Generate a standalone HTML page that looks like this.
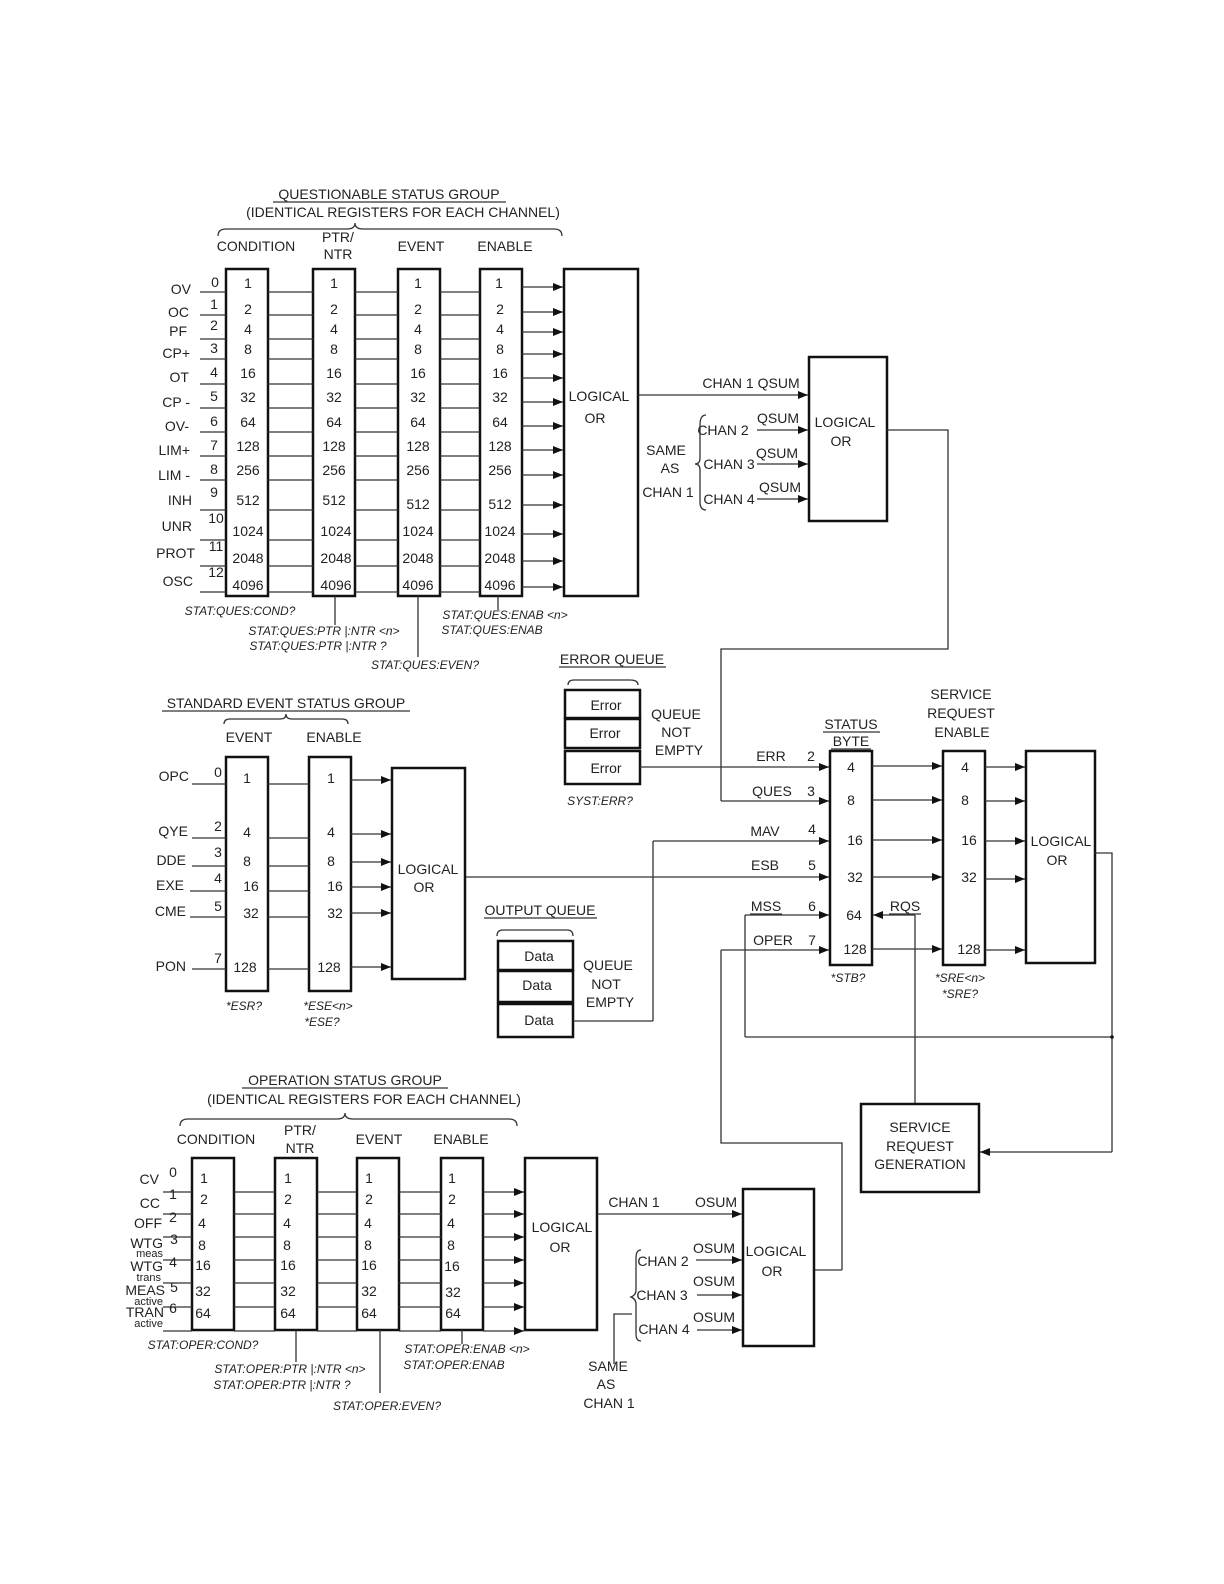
<!DOCTYPE html>
<html><head><meta charset="utf-8"><style>
html,body{margin:0;padding:0;background:#fff}
svg{display:block}
text{font-family:"Liberation Sans",sans-serif;font-size:14px;fill:#222}
.s{font-size:12px;font-style:italic}
.m{text-anchor:middle}
.e{text-anchor:end}
.b{fill:none;stroke:#111;stroke-width:2.5}
.l{fill:none;stroke:#333;stroke-width:1.3}
</style></head><body>
<svg width="1224" height="1584" viewBox="0 0 1224 1584" xmlns="http://www.w3.org/2000/svg">
<defs><marker id="a" markerWidth="10" markerHeight="8" refX="10" refY="4" orient="auto" markerUnits="userSpaceOnUse"><path d="M0,0 L10,4 L0,8 Z" fill="#111"/></marker></defs>

<!-- QUESTIONABLE -->
<text x="389" y="199" class="m">QUESTIONABLE  STATUS GROUP</text>
<line x1="273" y1="202" x2="506" y2="202" class="l"/>
<text x="403" y="217" class="m">(IDENTICAL REGISTERS FOR EACH CHANNEL)</text>
<path d="M218,236 Q218,229 226,229 L347,229 Q355,229 355,223 Q355,229 363,229 L554,229 Q562,229 562,236" class="l"/>
<text x="256" y="251" class="m">CONDITION</text>
<text x="338" y="242" class="m">PTR/</text><text x="338" y="259" class="m">NTR</text>
<text x="421" y="251" class="m">EVENT</text>
<text x="505" y="251" class="m">ENABLE</text>
<rect x="226" y="269" width="42" height="327" class="b"/>
<rect x="313" y="269" width="42" height="327" class="b"/>
<rect x="398" y="269" width="42" height="327" class="b"/>
<rect x="480" y="269" width="42" height="327" class="b"/>
<rect x="564" y="269" width="74" height="327" class="b"/>
<text x="599" y="401" class="m">LOGICAL</text><text x="595" y="423" class="m">OR</text>
<g class="l">
<path d="M200,292H226M268,292H313M355,292H398M440,292H480"/>
<path d="M200,315H226M268,315H313M355,315H398M440,315H480"/>
<path d="M200,339H226M268,339H313M355,339H398M440,339H480"/>
<path d="M200,359H226M268,359H313M355,359H398M440,359H480"/>
<path d="M200,384H226M268,384H313M355,384H398M440,384H480"/>
<path d="M200,408H226M268,408H313M355,408H398M440,408H480"/>
<path d="M200,432H226M268,432H313M355,432H398M440,432H480"/>
<path d="M200,456H226M268,456H313M355,456H398M440,456H480"/>
<path d="M200,480H226M268,480H313M355,480H398M440,480H480"/>
<path d="M200,510H226M268,510H313M355,510H398M440,510H480"/>
<path d="M200,540H226M268,540H313M355,540H398M440,540H480"/>
<path d="M200,566H226M268,566H313M355,566H398M440,566H480"/>
<path d="M200,592H226M268,592H313M355,592H398M440,592H480"/>
</g>
<g class="l" marker-end="url(#a)">
<line x1="522" y1="287" x2="563" y2="287"/><line x1="522" y1="312" x2="563" y2="312"/><line x1="522" y1="332" x2="563" y2="332"/><line x1="522" y1="354" x2="563" y2="354"/><line x1="522" y1="378" x2="563" y2="378"/><line x1="522" y1="402" x2="563" y2="402"/><line x1="522" y1="426" x2="563" y2="426"/><line x1="522" y1="450" x2="563" y2="450"/><line x1="522" y1="475" x2="563" y2="475"/><line x1="522" y1="505" x2="563" y2="505"/><line x1="522" y1="534" x2="563" y2="534"/><line x1="522" y1="561" x2="563" y2="561"/><line x1="522" y1="587" x2="563" y2="587"/>
</g>
<g class="e">
<text x="191" y="294">OV</text><text x="189" y="317">OC</text><text x="187" y="336">PF</text><text x="190" y="358">CP+</text><text x="189" y="382">OT</text><text x="190" y="407">CP -</text><text x="189" y="431">OV-</text><text x="190" y="455">LIM+</text><text x="190" y="480">LIM -</text><text x="192" y="505">INH</text><text x="192" y="531">UNR</text><text x="195" y="558">PROT</text><text x="193" y="586">OSC</text>
</g>
<g class="m">
<text x="215" y="287">0</text><text x="214" y="309">1</text><text x="214" y="330">2</text><text x="214" y="353">3</text><text x="214" y="377">4</text><text x="214" y="401">5</text><text x="214" y="426">6</text><text x="214" y="450">7</text><text x="214" y="474">8</text><text x="214" y="497">9</text><text x="216" y="523">10</text><text x="216" y="551">11</text><text x="216" y="577">12</text>
</g>
<g class="m">
<text x="248" y="288">1</text><text x="248" y="314">2</text><text x="248" y="334">4</text><text x="248" y="354">8</text><text x="248" y="378">16</text><text x="248" y="402">32</text><text x="248" y="427">64</text><text x="248" y="451">128</text><text x="248" y="475">256</text><text x="248" y="505">512</text><text x="248" y="536">1024</text><text x="248" y="563">2048</text><text x="248" y="590">4096</text>
<text x="334" y="288">1</text><text x="334" y="314">2</text><text x="334" y="334">4</text><text x="334" y="354">8</text><text x="334" y="378">16</text><text x="334" y="402">32</text><text x="334" y="427">64</text><text x="334" y="451">128</text><text x="334" y="475">256</text><text x="334" y="505">512</text><text x="336" y="536">1024</text><text x="336" y="563">2048</text><text x="336" y="590">4096</text>
<text x="418" y="288">1</text><text x="418" y="314">2</text><text x="418" y="334">4</text><text x="418" y="354">8</text><text x="418" y="378">16</text><text x="418" y="402">32</text><text x="418" y="427">64</text><text x="418" y="451">128</text><text x="418" y="475">256</text><text x="418" y="509">512</text><text x="418" y="536">1024</text><text x="418" y="563">2048</text><text x="418" y="590">4096</text>
<text x="499" y="288">1</text><text x="500" y="314">2</text><text x="500" y="334">4</text><text x="500" y="354">8</text><text x="500" y="378">16</text><text x="500" y="402">32</text><text x="500" y="427">64</text><text x="500" y="451">128</text><text x="500" y="475">256</text><text x="500" y="509">512</text><text x="500" y="536">1024</text><text x="500" y="563">2048</text><text x="500" y="590">4096</text>
</g>
<g class="l"><line x1="335" y1="596" x2="335" y2="625"/><line x1="418" y1="596" x2="418" y2="657"/><line x1="498" y1="596" x2="498" y2="610"/></g>
<text class="s m" x="240" y="615">STAT:QUES:COND?</text>
<text class="s m" x="324" y="635">STAT:QUES:PTR |:NTR &lt;n&gt;</text>
<text class="s m" x="318" y="650">STAT:QUES:PTR |:NTR ?</text>
<text class="s m" x="425" y="669">STAT:QUES:EVEN?</text>
<text class="s m" x="505" y="619">STAT:QUES:ENAB &lt;n&gt;</text>
<text class="s m" x="492" y="634">STAT:QUES:ENAB</text>

<!-- QSUM OR -->
<rect x="809" y="357" width="78" height="164" class="b"/>
<text x="845" y="427" class="m">LOGICAL</text><text x="841" y="446" class="m">OR</text>
<line x1="638" y1="395" x2="808" y2="395" class="l" marker-end="url(#a)"/>
<text x="751" y="388" class="m">CHAN 1  QSUM</text>
<text x="723" y="435" class="m">CHAN 2</text><text x="778" y="423" class="m">QSUM</text>
<text x="729" y="469" class="m">CHAN 3</text><text x="777" y="458" class="m">QSUM</text>
<text x="729" y="504" class="m">CHAN 4</text><text x="780" y="492" class="m">QSUM</text>
<g class="l" marker-end="url(#a)"><line x1="757" y1="430" x2="808" y2="430"/><line x1="757" y1="464" x2="808" y2="464"/><line x1="757" y1="499" x2="808" y2="499"/></g>
<path d="M706,415 Q700,415 700,425 L700,458 Q700,464 695,464 Q700,464 700,470 L700,502 Q700,510 706,510" class="l"/>
<text x="666" y="455" class="m">SAME</text><text x="670" y="473" class="m">AS</text><text x="668" y="497" class="m">CHAN 1</text>
<path d="M887,430 H948 V649 H721 V801" class="l"/>
<line x1="721" y1="801" x2="829" y2="801" class="l" marker-end="url(#a)"/>

<!-- ERROR QUEUE -->
<text x="612" y="664" class="m">ERROR QUEUE</text><line x1="559" y1="667" x2="666" y2="667" class="l"/>
<path d="M568,685 Q568,680 574,680 L630,680 Q638,680 638,685" class="l"/>
<rect x="565" y="690" width="75" height="28" class="b"/>
<rect x="565" y="719" width="75" height="29" class="b"/>
<rect x="565" y="751" width="75" height="33" class="b"/>
<text x="606" y="710" class="m">Error</text><text x="605" y="738" class="m">Error</text><text x="606" y="773" class="m">Error</text>
<text x="676" y="719" class="m">QUEUE</text><text x="676" y="737" class="m">NOT</text><text x="679" y="755" class="m">EMPTY</text>
<text class="s m" x="600" y="805">SYST:ERR?</text>
<line x1="640" y1="767" x2="829" y2="767" class="l" marker-end="url(#a)"/>

<!-- STATUS BYTE -->
<text x="851" y="729" class="m">STATUS</text><text x="851" y="746" class="m">BYTE</text>
<line x1="823" y1="732" x2="880" y2="732" class="l"/><line x1="831" y1="749" x2="871" y2="749" class="l"/>
<rect x="830" y="751" width="42" height="214" class="b"/>
<g class="m"><text x="851" y="772">4</text><text x="851" y="805">8</text><text x="855" y="845">16</text><text x="855" y="882">32</text><text x="854" y="920">64</text><text x="855" y="954">128</text></g>
<text x="771" y="761" class="m">ERR</text><text x="811" y="761" class="m">2</text>
<text x="772" y="796" class="m">QUES</text><text x="811" y="796" class="m">3</text>
<text x="765" y="836" class="m">MAV</text><text x="812" y="834" class="m">4</text>
<text x="765" y="870" class="m">ESB</text><text x="812" y="870" class="m">5</text>
<text x="766" y="911" class="m">MSS</text><text x="812" y="911" class="m">6</text><line x1="750" y1="914" x2="782" y2="914" class="l"/>
<text x="773" y="945" class="m">OPER</text><text x="812" y="945" class="m">7</text>
<text class="s m" x="848" y="982">*STB?</text>
<path d="M653,1021 V841" class="l"/>
<line x1="653" y1="841" x2="829" y2="841" class="l" marker-end="url(#a)"/>
<line x1="465" y1="877" x2="829" y2="877" class="l" marker-end="url(#a)"/>
<path d="M745,1037 V915" class="l"/>
<line x1="745" y1="915" x2="829" y2="915" class="l" marker-end="url(#a)"/>
<path d="M842,1270 V1143 H721 V950" class="l"/>
<line x1="721" y1="950" x2="829" y2="950" class="l" marker-end="url(#a)"/>
<path d="M814,1270 H842" class="l"/>
<path d="M915,1104 V915" class="l"/>
<line x1="915" y1="915" x2="873" y2="915" class="l" marker-end="url(#a)"/>
<text x="905" y="911" class="m">RQS</text><line x1="889" y1="914" x2="921" y2="914" class="l"/>

<!-- SRE -->
<text x="961" y="699" class="m">SERVICE</text><text x="961" y="718" class="m">REQUEST</text><text x="962" y="737" class="m">ENABLE</text>
<rect x="943" y="751" width="42" height="214" class="b"/>
<g class="m"><text x="965" y="772">4</text><text x="965" y="805">8</text><text x="969" y="845">16</text><text x="969" y="882">32</text><text x="969" y="954">128</text></g>
<g class="l" marker-end="url(#a)">
<line x1="872" y1="766" x2="942" y2="766"/><line x1="872" y1="800" x2="942" y2="800"/><line x1="872" y1="840" x2="942" y2="840"/><line x1="872" y1="877" x2="942" y2="877"/><line x1="872" y1="949" x2="942" y2="949"/>
<line x1="985" y1="767" x2="1025" y2="767"/><line x1="985" y1="801" x2="1025" y2="801"/><line x1="985" y1="841" x2="1025" y2="841"/><line x1="985" y1="879" x2="1025" y2="879"/><line x1="985" y1="950" x2="1025" y2="950"/>
</g>
<text class="s m" x="960" y="982">*SRE&lt;n&gt;</text><text class="s m" x="960" y="998">*SRE?</text>
<rect x="1026" y="751" width="69" height="212" class="b"/>
<text x="1061" y="846" class="m">LOGICAL</text><text x="1057" y="865" class="m">OR</text>
<path d="M1095,853 H1112 V1152" class="l"/>
<line x1="1112" y1="1152" x2="980" y2="1152" class="l" marker-end="url(#a)"/>
<line x1="745" y1="1037" x2="1112" y2="1037" class="l"/>
<circle cx="1112" cy="1037" r="1.8" fill="#111"/>
<rect x="861" y="1104" width="118" height="88" class="b"/>
<text x="920" y="1132" class="m">SERVICE</text><text x="920" y="1151" class="m">REQUEST</text><text x="920" y="1169" class="m">GENERATION</text>

<!-- STANDARD EVENT -->
<text x="286" y="708" class="m">STANDARD EVENT STATUS GROUP</text><line x1="162" y1="711" x2="410" y2="711" class="l"/>
<path d="M224,724 Q224,719 230,719 L280,719 Q286,719 286,714 Q286,719 292,719 L342,719 Q348,719 348,724" class="l"/>
<text x="249" y="742" class="m">EVENT</text><text x="334" y="742" class="m">ENABLE</text>
<rect x="226" y="757" width="42" height="234" class="b"/>
<rect x="309" y="757" width="42" height="234" class="b"/>
<rect x="392" y="768" width="73" height="211" class="b"/>
<text x="428" y="874" class="m">LOGICAL</text><text x="424" y="892" class="m">OR</text>
<g class="e"><text x="189" y="781">OPC</text><text x="188" y="836">QYE</text><text x="186" y="865">DDE</text><text x="184" y="890">EXE</text><text x="186" y="916">CME</text><text x="186" y="971">PON</text></g>
<g class="m"><text x="218" y="777">0</text><text x="218" y="831">2</text><text x="218" y="857">3</text><text x="218" y="883">4</text><text x="218" y="911">5</text><text x="218" y="963">7</text></g>
<g class="l"><path d="M192,784H226M268,784H309M192,838H226M268,838H309M192,866H226M268,866H309M190,891H226M268,891H309M190,917H226M268,917H309M192,969H226M268,969H309"/></g>
<g class="l" marker-end="url(#a)"><line x1="351" y1="780" x2="391" y2="780"/><line x1="351" y1="834" x2="391" y2="834"/><line x1="351" y1="862" x2="391" y2="862"/><line x1="351" y1="887" x2="391" y2="887"/><line x1="351" y1="913" x2="391" y2="913"/><line x1="351" y1="967" x2="391" y2="967"/></g>
<g class="m"><text x="247" y="783">1</text><text x="247" y="837">4</text><text x="247" y="866">8</text><text x="251" y="891">16</text><text x="251" y="918">32</text><text x="245" y="972">128</text>
<text x="331" y="783">1</text><text x="331" y="837">4</text><text x="331" y="866">8</text><text x="335" y="891">16</text><text x="335" y="918">32</text><text x="329" y="972">128</text></g>
<text class="s m" x="244" y="1010">*ESR?</text><text class="s m" x="328" y="1010">*ESE&lt;n&gt;</text><text class="s m" x="322" y="1026">*ESE?</text>

<!-- OUTPUT QUEUE -->
<text x="540" y="915" class="m">OUTPUT QUEUE</text><line x1="484" y1="918" x2="597" y2="918" class="l"/>
<path d="M497,936 Q497,930 503,930 L567,930 Q573,930 573,936" class="l"/>
<rect x="498" y="941" width="75" height="29" class="b"/>
<rect x="498" y="971" width="75" height="31" class="b"/>
<rect x="498" y="1004" width="75" height="33" class="b"/>
<text x="539" y="961" class="m">Data</text><text x="537" y="990" class="m">Data</text><text x="539" y="1025" class="m">Data</text>
<text x="608" y="970" class="m">QUEUE</text><text x="606" y="989" class="m">NOT</text><text x="610" y="1007" class="m">EMPTY</text>
<line x1="573" y1="1021" x2="653" y2="1021" class="l"/>

<!-- OPERATION -->
<text x="345" y="1085" class="m">OPERATION  STATUS GROUP</text><line x1="242" y1="1088" x2="448" y2="1088" class="l"/>
<text x="364" y="1104" class="m">(IDENTICAL REGISTERS FOR EACH CHANNEL)</text>
<path d="M180,1126 Q180,1119 188,1119 L337,1119 Q345,1119 345,1113 Q345,1119 353,1119 L509,1119 Q517,1119 517,1126" class="l"/>
<text x="216" y="1144" class="m">CONDITION</text>
<text x="300" y="1135" class="m">PTR/</text><text x="300" y="1153" class="m">NTR</text>
<text x="379" y="1144" class="m">EVENT</text><text x="461" y="1144" class="m">ENABLE</text>
<rect x="192" y="1158" width="42" height="172" class="b"/>
<rect x="275" y="1158" width="42" height="172" class="b"/>
<rect x="357" y="1158" width="42" height="172" class="b"/>
<rect x="441" y="1158" width="42" height="172" class="b"/>
<rect x="525" y="1158" width="72" height="172" class="b"/>
<text x="562" y="1232" class="m">LOGICAL</text><text x="560" y="1252" class="m">OR</text>
<g class="l"><path d="M163,1192H192M234,1192H275M317,1192H357M399,1192H441M163,1214H192M234,1214H275M317,1214H357M399,1214H441M163,1237H192M234,1237H275M317,1237H357M399,1237H441M163,1260H192M234,1260H275M317,1260H357M399,1260H441M163,1283H192M234,1283H275M317,1283H357M399,1283H441M163,1307H192M234,1307H275M317,1307H357M399,1307H441M163,1331H192M234,1331H275M317,1331H357M399,1331H441"/></g>
<g class="l" marker-end="url(#a)"><line x1="483" y1="1192" x2="524" y2="1192"/><line x1="483" y1="1214" x2="524" y2="1214"/><line x1="483" y1="1237" x2="524" y2="1237"/><line x1="483" y1="1260" x2="524" y2="1260"/><line x1="483" y1="1283" x2="524" y2="1283"/><line x1="483" y1="1307" x2="524" y2="1307"/><line x1="483" y1="1331" x2="524" y2="1331"/></g>
<g class="e"><text x="159" y="1184">CV</text><text x="160" y="1208">CC</text><text x="162" y="1228">OFF</text><text x="163" y="1248">WTG</text><text x="163" y="1271">WTG</text><text x="165" y="1295">MEAS</text><text x="164" y="1317">TRAN</text></g>
<g class="e" style="font-size:11px"><text x="163" y="1257" style="font-size:11px">meas</text><text x="161" y="1281" style="font-size:11px">trans</text><text x="163" y="1305" style="font-size:11px">active</text><text x="163" y="1327" style="font-size:11px">active</text></g>
<g class="m"><text x="173" y="1177">0</text><text x="173" y="1199">1</text><text x="173" y="1222">2</text><text x="174" y="1244">3</text><text x="173" y="1267">4</text><text x="174" y="1292">5</text><text x="173" y="1313">6</text></g>
<g class="m">
<text x="204" y="1183">1</text><text x="204" y="1204">2</text><text x="202" y="1228">4</text><text x="202" y="1250">8</text><text x="203" y="1270">16</text><text x="203" y="1296">32</text><text x="203" y="1318">64</text>
<text x="288" y="1183">1</text><text x="288" y="1204">2</text><text x="287" y="1228">4</text><text x="287" y="1250">8</text><text x="288" y="1270">16</text><text x="288" y="1296">32</text><text x="288" y="1318">64</text>
<text x="369" y="1183">1</text><text x="369" y="1204">2</text><text x="368" y="1228">4</text><text x="368" y="1250">8</text><text x="369" y="1270">16</text><text x="369" y="1296">32</text><text x="369" y="1318">64</text>
<text x="452" y="1183">1</text><text x="452" y="1204">2</text><text x="451" y="1228">4</text><text x="451" y="1250">8</text><text x="452" y="1271">16</text><text x="453" y="1297">32</text><text x="453" y="1318">64</text>
</g>
<g class="l"><line x1="296" y1="1330" x2="296" y2="1362"/><line x1="380" y1="1330" x2="380" y2="1393"/><line x1="462" y1="1330" x2="462" y2="1344"/></g>
<text class="s m" x="203" y="1349">STAT:OPER:COND?</text>
<text class="s m" x="290" y="1373">STAT:OPER:PTR |:NTR &lt;n&gt;</text>
<text class="s m" x="282" y="1389">STAT:OPER:PTR |:NTR ?</text>
<text class="s m" x="387" y="1410">STAT:OPER:EVEN?</text>
<text class="s m" x="467" y="1353">STAT:OPER:ENAB &lt;n&gt;</text>
<text class="s m" x="454" y="1369">STAT:OPER:ENAB</text>

<!-- OSUM OR -->
<rect x="743" y="1189" width="71" height="157" class="b"/>
<text x="776" y="1256" class="m">LOGICAL</text><text x="772" y="1276" class="m">OR</text>
<line x1="597" y1="1214" x2="742" y2="1214" class="l" marker-end="url(#a)"/>
<text x="634" y="1207" class="m">CHAN 1</text><text x="716" y="1207" class="m">OSUM</text>
<text x="663" y="1266" class="m">CHAN 2</text><text x="714" y="1253" class="m">OSUM</text>
<text x="662" y="1300" class="m">CHAN 3</text><text x="714" y="1286" class="m">OSUM</text>
<text x="664" y="1334" class="m">CHAN 4</text><text x="714" y="1322" class="m">OSUM</text>
<g class="l" marker-end="url(#a)"><line x1="696" y1="1260" x2="742" y2="1260"/><line x1="697" y1="1295" x2="742" y2="1295"/><line x1="697" y1="1330" x2="742" y2="1330"/></g>
<path d="M641,1250 Q636,1250 636,1258 L636,1290 Q636,1295 631,1297 Q636,1299 636,1304 L636,1334 Q636,1341 641,1341" class="l"/>
<path d="M614,1364 V1314 H632" class="l"/>
<text x="608" y="1371" class="m">SAME</text><text x="606" y="1389" class="m">AS</text><text x="609" y="1408" class="m">CHAN 1</text>
</svg>
</body></html>
